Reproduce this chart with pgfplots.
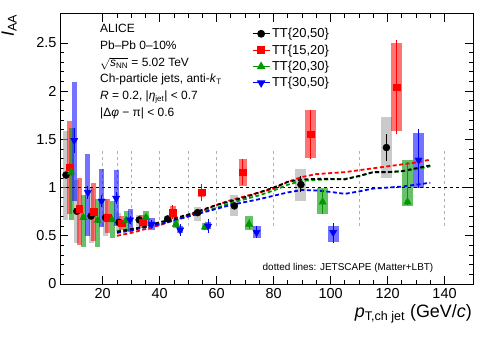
\documentclass[border=0pt]{standalone}
\usepackage{fontspec}
\setmainfont{Liberation Sans}
\usepackage{amsmath}
\usepackage{pgfplots}
\usepackage{pgfplotstable}
\pgfplotsset{compat=1.18}

\definecolor{rgreen}{rgb}{0,0.6,0}

% x  y  stat lo/hi  sys lo/hi
\pgfplotstableread{
x     y     sl    sh    bl    bh
7.1   1.13  1.10  1.16  0.66  1.59
10.9  0.755 0.73  0.78  0.42  1.08
15.9  0.705 0.68  0.73  0.42  1.00
21.0  0.69  0.67  0.71  0.50  0.88
25.7  0.64  0.62  0.66  0.55  0.74
32.8  0.665 0.65  0.68  0.60  0.72
42.8  0.675 0.66  0.69  0.64  0.71
53.3  0.74  0.72  0.76  0.65  0.80
66.2  0.81  0.78  0.84  0.71  0.92
89.6  1.03  0.95  1.12  0.865 1.19
119.6 1.415 1.28  1.56  1.095 1.73
}\ttA
\pgfplotstableread{
x     y     sl    sh    bl    bh
8.3   1.21  1.17  1.25  0.73  1.69
11.8  0.78  0.75  0.81  0.40  1.10
16.8  0.75  0.72  0.78  0.45  1.05
21.8  0.685 0.66  0.71  0.53  0.88
26.7  0.63  0.61  0.65  0.56  0.70
34.0  0.64  0.62  0.66  0.58  0.72
44.6  0.74  0.67  0.82  0.68  0.81
54.7  0.95  0.86  1.04  0.90  0.99
69.1  1.16  1.03  1.30  1.02  1.30
93.1  1.555 1.30  1.80  1.31  1.80
123.3 2.04  1.56  2.53  1.59  2.50
}\ttB
\pgfplotstableread{
x     y     sl    sh    bl    bh
8.9   1.16  1.12  1.20  0.66  1.62
13.2  0.69  0.66  0.72  0.38  0.92
18.2  0.66  0.63  0.69  0.38  0.885
23.3  0.665 0.64  0.69  0.48  0.86
28.2  0.66  0.64  0.68  0.55  0.76
35.2  0.69  0.67  0.71  0.60  0.76
45.7  0.62  0.59  0.65  0.58  0.66
55.9  0.59  0.56  0.62  0.56  0.63
71.4  0.62  0.57  0.67  0.56  0.70
97.2  0.85  0.73  0.99  0.73  0.995
127.0 0.85  0.82  1.27  0.81  1.29
}\ttC
\pgfplotstableread{
x     y     sl    sh    bl    bh
10.0  1.49  1.36  1.62  0.86  2.09
14.8  0.95  0.88  1.02  0.50  1.35
19.6  0.86  0.80  0.92  0.59  1.19
24.7  0.89  0.83  0.95  0.60  1.18
29.6  0.665 0.62  0.71  0.54  0.78
37.2  0.62  0.58  0.66  0.56  0.68
47.2  0.56  0.50  0.62  0.53  0.60
57.0  0.60  0.53  0.67  0.57  0.64
74.0  0.535 0.48  0.60  0.48  0.60
100.9 0.535 0.43  0.63  0.44  0.605
130.9 1.285 1.00  1.61  0.995 1.57
}\ttD

% JETSCAPE (Matter+LBT)
\pgfplotstableread{
x   a     b     c     d
25  0.54  0.50  0.55  0.53
30  0.57  0.53  0.57  0.555
35  0.60  0.57  0.59  0.59
40  0.64  0.61  0.62  0.62
45  0.68  0.66  0.66  0.66
50  0.72  0.71  0.70  0.70
55  0.77  0.76  0.75  0.74
60  0.82  0.82  0.79  0.78
65  0.86  0.87  0.84  0.82
70  0.90  0.91  0.88  0.85
75  0.95  0.95  0.92  0.88
80  1.00  0.99  0.97  0.915
85  1.06  1.06  1.03  0.95
90  1.085 1.11  1.07  0.975
95  1.09  1.14  1.08  0.97
100 1.09  1.15  1.085 0.955
105 1.085 1.16  1.09  0.935
110 1.12  1.18  1.12  0.96
115 1.16  1.20  1.16  0.99
120 1.16  1.22  1.16  1.00
125 1.17  1.24  1.17  1.01
130 1.20  1.26  1.19  1.03
135 1.23  1.29  1.22  1.05
}\jetscape

\newcommand{\sysbox}[4]{%
  \addplot[only marks, mark=none, forget plot, restrict x to domain=#3,
    error bars/.cd, y dir=both, y explicit, error mark=none,
    error bar style={line width=#4, draw=#2}]
    table[x=x, y=y, y error plus expr=\thisrow{bh}-\thisrow{y},
      y error minus expr=\thisrow{y}-\thisrow{bl}] {#1};}
\newcommand{\sysall}[2]{%
  \sysbox{#1}{#2}{0:30}{5bp}
  \sysbox{#1}{#2}{30:60}{6.5bp}
  \sysbox{#1}{#2}{60:80}{8bp}
  \sysbox{#1}{#2}{80:150}{11bp}}

\begin{document}
\begin{tikzpicture}
\begin{axis}[
  scale only axis,
  width=413bp, height=270bp,
  xmin=5, xmax=150, ymin=0, ymax=2.8,
  xtick={20,40,...,140},
  ytick={0,0.5,...,2.5},
  minor x tick num=3,
  minor y tick num=4,
  tick align=inside,
  xtick pos=both, ytick pos=both,
  xticklabel pos=lower, yticklabel pos=left,
  major tick length=8bp, minor tick length=4bp,
  every tick/.style={black, line width=0.8bp},
  axis line style={line width=1bp},
  /pgf/number format/assume math mode=true,
  ticklabel style={font=\fontsize{14.5}{16}\selectfont},
  xticklabel style={yshift=-1bp},
  legend style={draw=none, fill=none, at={(0.465,0.955)}, anchor=north west,
    font=\fontsize{13}{15}\selectfont, row sep=1.5bp, inner sep=0pt},
  legend cell align=left,
]
% bin edges
\pgfplotsinvokeforeach{20,25,30,40,50,60,80,110,140}{
  \draw[black!30, line width=0.8bp, dash pattern=on 3bp off 3bp]
    (axis cs:#1,0.6) -- (axis cs:#1,1.4);
}
% systematic boxes
\sysall{\ttA}{black!35, opacity=0.6}
\sysall{\ttB}{red, opacity=0.55}
\sysall{\ttC}{rgreen, opacity=0.6}
\sysall{\ttD}{blue, opacity=0.55}

\draw[black, line width=0.8bp, dash pattern=on 3bp off 3bp]
  (axis cs:5,1) -- (axis cs:150,1);

% JETSCAPE curves
\addplot[red, line width=1.8bp, dash pattern=on 4bp off 2.5bp, forget plot] table[x=x, y=b] {\jetscape};
\addplot[rgreen, line width=1.8bp, dash pattern=on 4bp off 2.5bp, forget plot] table[x=x, y=c] {\jetscape};
\addplot[blue, line width=1.8bp, dash pattern=on 4bp off 2.5bp, forget plot] table[x=x, y=d] {\jetscape};
\addplot[black, line width=1.8bp, dash pattern=on 4bp off 2.5bp, forget plot] table[x=x, y=a] {\jetscape};

% data points with statistical errors
\addplot[only marks, black, mark=*, mark size=3.5bp, forget plot,
  error bars/.cd, y dir=both, y explicit, error mark=none, error bar style={line width=1bp}]
  table[x=x, y=y, y error plus expr=\thisrow{sh}-\thisrow{y}, y error minus expr=\thisrow{y}-\thisrow{sl}] {\ttA};
\addplot[only marks, red, mark=square*, mark size=3.3bp, forget plot,
  error bars/.cd, y dir=both, y explicit, error mark=none, error bar style={line width=1bp}]
  table[x=x, y=y, y error plus expr=\thisrow{sh}-\thisrow{y}, y error minus expr=\thisrow{y}-\thisrow{sl}] {\ttB};
\addplot[only marks, rgreen, mark=triangle*, mark size=4.2bp, forget plot,
  error bars/.cd, y dir=both, y explicit, error mark=none, error bar style={line width=1bp}]
  table[x=x, y=y, y error plus expr=\thisrow{sh}-\thisrow{y}, y error minus expr=\thisrow{y}-\thisrow{sl}] {\ttC};
\addplot[only marks, blue, mark=triangle*, mark size=4.2bp, mark options={rotate=180}, forget plot,
  error bars/.cd, y dir=both, y explicit, error mark=none, error bar style={line width=1bp}]
  table[x=x, y=y, y error plus expr=\thisrow{sh}-\thisrow{y}, y error minus expr=\thisrow{y}-\thisrow{sl}] {\ttD};

\addlegendimage{black, line width=0.8bp, mark=*, mark size=3.5bp}
\addlegendentry{TT\{20,50\}}
\addlegendimage{red, line width=0.8bp, mark=square*, mark size=3.3bp}
\addlegendentry{TT\{15,20\}}
\addlegendimage{rgreen, line width=0.8bp, mark=triangle*, mark size=4.2bp}
\addlegendentry{TT\{20,30\}}
\addlegendimage{blue, line width=0.8bp, mark=triangle*, mark size=4.2bp, mark options={rotate=180}}
\addlegendentry{TT\{30,50\}}
\end{axis}

% text block
\begin{scope}[every node/.style={anchor=base west, inner sep=0pt, font=\fontsize{12}{14}\selectfont}]
\node at (40bp,251bp) {ALICE};
\node at (40bp,234bp) {Pb–Pb 0–10\%};
\node at (40bp,217.5bp) {$\smash[t]{\sqrt{\text{\textit{s}}_{\text{NN}}}}$ = 5.02 TeV};
\node at (40bp,201bp) {Ch-particle jets, anti-\textit{k}$_{\text{T}}$};
\node at (40bp,184bp) {\textit{R} = 0.2, |\textit{η}$_{\text{jet}}$| < 0.7};
\node at (40bp,167bp) {|Δ\textit{φ} − π| < 0.6};
\end{scope}
\node[anchor=base, inner sep=0pt, font=\fontsize{10}{12}\selectfont] at (288bp,14bp)
  {dotted lines: JETSCAPE (Matter+LBT)};

% axis titles
\node[anchor=base east, inner sep=0pt, font=\fontsize{18}{20}\selectfont] at (412bp,-33bp)
  {\textit{p}$_{\text{T,ch jet}}$ (GeV/\textit{c})};
\node[rotate=90, anchor=base east, inner sep=0pt, font=\fontsize{18}{20}\selectfont] at (-46bp,270bp)
  {\textit{I}$_{\text{AA}}$};

\pgfresetboundingbox
\path (-60bp,-54bp) rectangle (438bp,284bp);
\end{tikzpicture}
\end{document}
